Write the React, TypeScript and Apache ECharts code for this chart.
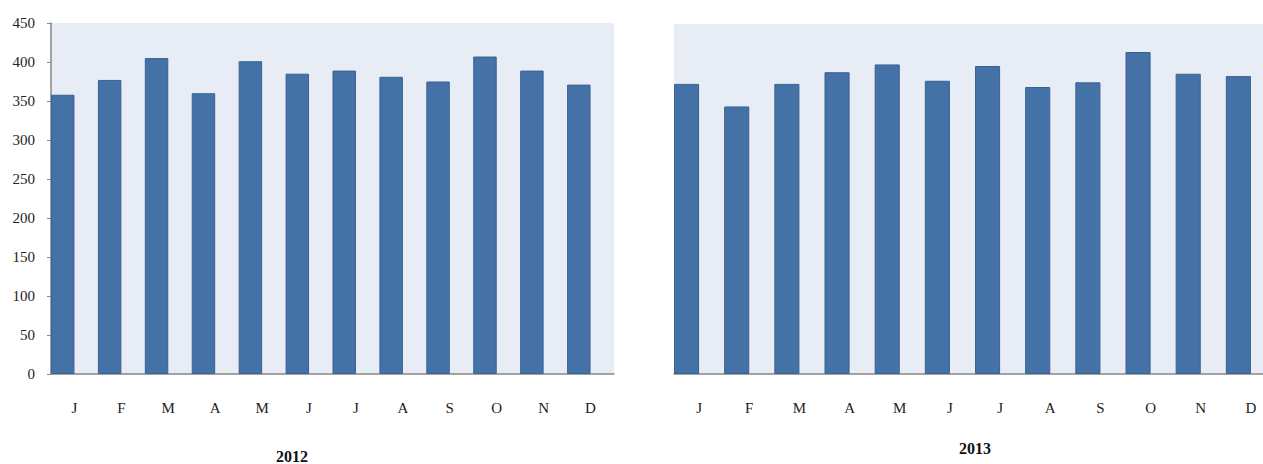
import React, { useEffect, useRef } from "react";
import * as echarts from "echarts";

// Monthly values per year
const months = ["J", "F", "M", "A", "M", "J", "J", "A", "S", "O", "N", "D"];
const values2012 = [358, 377, 405, 360, 401, 385, 389, 381, 375, 407, 389, 371];
const values2013 = [373, 344, 373, 388, 398, 377, 396, 369, 375, 414, 386, 383];
const yearLabels = ["2012", "2013"];
const yTicks = { min: 0, max: 450, interval: 50 };

const FONT = "'Liberation Serif', 'Times New Roman', serif";
const BAR = "#4472A7";
const BAR_EDGE = "#3A6193";
const PLOT_BG = "#E8ECF4";
const AXIS = "#878787";

export default function App() {
  const ref = useRef<HTMLDivElement>(null);

  useEffect(() => {
    if (!ref.current) return;
    const chart = echarts.init(ref.current, null, { renderer: "svg" });

    const xAxis = (gridIndex: number) => ({
      type: "category" as const,
      gridIndex,
      data: months,
      axisLine: { show: true, lineStyle: { color: AXIS, width: 1.5 } },
      axisTick: { show: false },
      axisLabel: { fontFamily: FONT, fontSize: 15, color: "#222", margin: 26 },
    });

    const barSeries = (idx: number, data: (number | null)[], visible: boolean) => ({
      type: "bar" as const,
      xAxisIndex: idx,
      yAxisIndex: idx,
      data,
      barGap: "0%",
      barCategoryGap: "0%",
      silent: true,
      itemStyle: visible
        ? { color: BAR, borderColor: BAR_EDGE, borderWidth: 1 }
        : { color: "transparent" },
    });

    const empty = months.map(() => null);

    chart.setOption({
      animation: false,
      textStyle: { fontFamily: FONT },
      grid: [
        { left: 51, top: 23, width: 563, height: 351, show: true, backgroundColor: PLOT_BG, borderWidth: 0 },
        { left: 674, top: 24, width: 602, height: 350, show: true, backgroundColor: PLOT_BG, borderWidth: 0 },
      ],
      xAxis: [xAxis(0), xAxis(1)],
      yAxis: [
        {
          type: "value",
          gridIndex: 0,
          ...yTicks,
          axisLine: { show: true, lineStyle: { color: AXIS, width: 1.5 } },
          axisTick: { show: true, inside: false, length: 4, lineStyle: { color: AXIS } },
          axisLabel: { fontFamily: FONT, fontSize: 15, color: "#222", margin: 16 },
          splitLine: { show: false },
        },
        {
          type: "value",
          gridIndex: 1,
          ...yTicks,
          show: false,
          splitLine: { show: false },
        },
      ],
      series: [
        barSeries(0, values2012, true),
        barSeries(0, empty, false),
        barSeries(1, values2013, true),
        barSeries(1, empty, false),
      ],
      graphic: [
        {
          type: "text",
          x: 292,
          y: 456,
          style: {
            text: yearLabels[0],
            fontFamily: FONT,
            fontSize: 16,
            fontWeight: "bold",
            fill: "#111",
            align: "center",
            verticalAlign: "middle",
          },
        },
        {
          type: "text",
          x: 975,
          y: 448,
          style: {
            text: yearLabels[1],
            fontFamily: FONT,
            fontSize: 16,
            fontWeight: "bold",
            fill: "#111",
            align: "center",
            verticalAlign: "middle",
          },
        },
      ],
    });

    return () => chart.dispose();
  }, []);

  // The right-hand plot runs past the page edge, so the chart is wider than its clipping frame.
  return (
    <div
      style={{
        position: "fixed",
        left: 0,
        top: 0,
        width: 1263,
        height: 464,
        overflow: "hidden",
        background: "#fff",
      }}
    >
      <div ref={ref} style={{ width: 1290, height: 464 }} />
    </div>
  );
}
